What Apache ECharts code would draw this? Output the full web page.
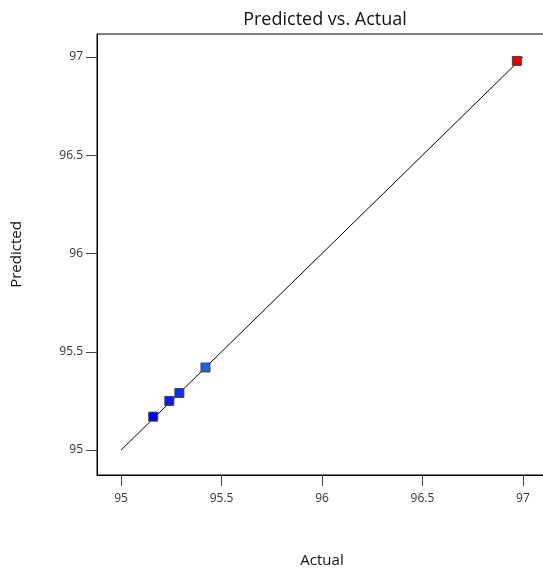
<!DOCTYPE html>
<html>
<head>
<meta charset="utf-8">
<script src="https://cdn.jsdelivr.net/npm/echarts@6/dist/echarts.min.js"></script>
<style>
  html, body { margin: 0; padding: 0; background: #fff; overflow: hidden; }
  #chart { width: 543px; height: 571px; }
</style>
</head>
<body>
<div id="chart"></div>
<script>
  // actual vs predicted values
  const actual = [95.16, 95.24, 95.29, 95.42, 96.97];
  const predicted = [95.17, 95.25, 95.29, 95.42, 96.98];
  // ideal line ends
  const lineEnds = [95, 97];
  const tickValues = [95, 95.5, 96, 96.5, 97];

  const points = actual.map((a, i) => [a, predicted[i]]);

  let chart = echarts.init(document.getElementById('chart'));
  let font = "'Open Sans', 'Noto Sans', sans-serif";

  let option = {
    animation: false,
    backgroundColor: '#fff',
    title: {
      text: 'Predicted vs. Actual',
      left: 320,
      textAlign: 'center',
      top: 6,
      textStyle: { fontFamily: font, fontSize: 18, fontWeight: 'normal', color: '#111' }
    },
    grid: {
      left: 97, top: 34, right: -4, bottom: 96,
      outerBoundsMode: 'none',
      containLabel: false,
      show: true, borderColor: '#000', borderWidth: 1
    },
    visualMap: {
      show: false,
      type: 'continuous',
      seriesIndex: 1,
      dimension: 1,
      min: Math.min(...predicted),
      max: Math.max(...predicted),
      inRange: { color: ['#0000e8', '#3090d8', '#20c8a0', '#a0e040', '#f0a000', '#e80000'] }
    },
    xAxis: {
      type: 'value',
      min: 94.88,
      max: 97.12,
      name: 'Actual',
      nameLocation: 'middle',
      nameGap: 78,
      nameTextStyle: { fontFamily: font, fontSize: 15, color: '#111' },
      splitLine: { show: false },
      axisLine: { lineStyle: { color: '#000', width: 1 } },
      axisTick: { customValues: tickValues, length: 11, lineStyle: { color: '#444' } },
      axisLabel: { customValues: tickValues, margin: 18, fontFamily: font, fontSize: 12, color: '#333' }
    },
    yAxis: {
      type: 'value',
      min: 94.873,
      max: 97.117,
      name: 'Predicted',
      nameLocation: 'middle',
      nameGap: 73,
      nameTextStyle: { fontFamily: font, fontSize: 15, color: '#111' },
      splitLine: { show: false },
      axisLine: { lineStyle: { color: '#000', width: 1 } },
      axisTick: { customValues: tickValues, length: 11, lineStyle: { color: '#444' } },
      axisLabel: { customValues: tickValues, margin: 14, fontFamily: font, fontSize: 12, color: '#333' }
    },
    series: [
      {
        type: 'line',
        data: [[lineEnds[0], lineEnds[0]], [lineEnds[1], lineEnds[1]]],
        symbol: 'none',
        lineStyle: { color: '#000', width: 1 },
        z: 2
      },
      {
        type: 'scatter',
        data: points,
        symbol: 'rect',
        symbolSize: 9,
        itemStyle: { borderColor: '#444', borderWidth: 1, opacity: 1 },
        z: 3
      }
    ]
  };

  chart.setOption(option);
</script>
</body>
</html>
